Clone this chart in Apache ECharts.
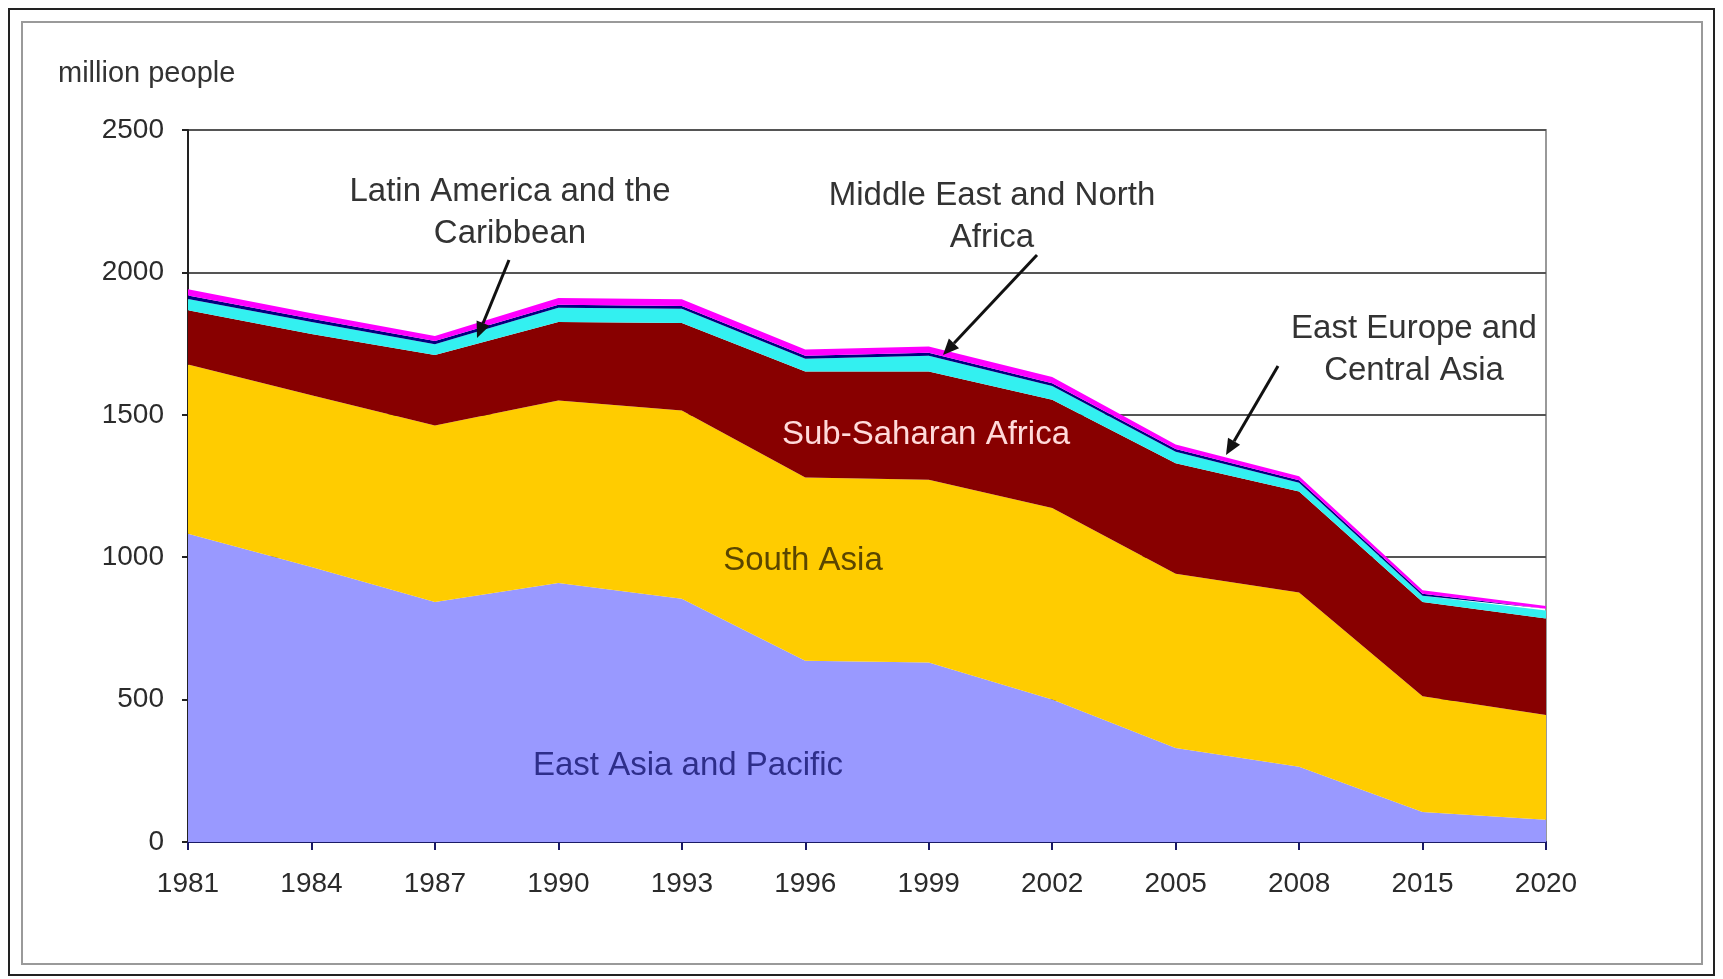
<!DOCTYPE html>
<html>
<head>
<meta charset="utf-8">
<title>Poverty by region</title>
<script src="https://cdn.jsdelivr.net/npm/echarts@6/dist/echarts.min.js"></script>
<style>
  html, body { margin: 0; padding: 0; background: #fff; }
  #chart { width: 1723px; height: 979px; }
</style>
</head>
<body>
<div id="chart"></div>
<script>
// years on the x axis
var years = ['1981', '1984', '1987', '1990', '1993', '1996', '1999', '2002', '2005', '2008', '2015', '2020']
var yTicks = [0, 500, 1000, 1500, 2000, 2500]

// million people (stacked bottom -> top)
var eastAsia = [1082, 966, 843, 909, 854, 636, 630, 500, 330, 264, 105, 78]
var southAsia = [595, 603, 619, 641, 661, 644, 642, 673, 612, 612, 407, 368]
var subSaharan = [190, 215, 248, 276, 307, 372, 380, 380, 388, 355, 331, 339]
var latinAmerica = [40, 42, 38, 50, 50, 45, 55, 48, 40, 30, 22, 28]
var middleEast = [12, 11, 11, 10, 10, 10, 11, 10, 10, 9, 7, 6]
var eastEurope = [22, 20, 18, 24, 24, 22, 22, 22, 16, 14, 12, 10]

var font = 'Liberation Sans, Arial, sans-serif'

function area (name, data, color) {
  return {
    name: name,
    type: 'line',
    stack: 'total',
    data: data,
    symbol: 'none',
    lineStyle: { width: 0 },
    areaStyle: { color: color, opacity: 1 },
    itemStyle: { color: color },
    silent: true
  }
}

function note (x, y, text, color, size) {
  return {
    type: 'text',
    x: x,
    y: y,
    z: 20,
    style: {
      text: text,
      fill: color || '#333',
      font: (size || 33) + 'px ' + font,
      textAlign: 'center',
      textVerticalAlign: 'middle',
      lineHeight: 42
    }
  }
}

function arrow (x1, y1, x2, y2) {
  // shaft plus a small filled head at (x2, y2)
  var ang = Math.atan2(y2 - y1, x2 - x1)
  var len = 16
  var w = 7
  var bx = x2 - len * Math.cos(ang)
  var by = y2 - len * Math.sin(ang)
  return [
    {
      type: 'line', z: 20,
      shape: { x1: x1, y1: y1, x2: bx, y2: by },
      style: { stroke: '#111', lineWidth: 3 }
    },
    {
      type: 'polygon', z: 20,
      shape: {
        points: [
          [x2, y2],
          [bx + w * Math.sin(ang), by - w * Math.cos(ang)],
          [bx - w * Math.sin(ang), by + w * Math.cos(ang)]
        ]
      },
      style: { fill: '#111' }
    }
  ]
}

var chart = echarts.init(document.getElementById('chart'))
chart.setOption({
  backgroundColor: '#fff',
  animation: false,
  grid: {
    left: 188,
    right: 177,
    top: 130,
    bottom: 137,
    show: true,
    borderColor: '#999',
    borderWidth: 2
  },
  xAxis: {
    type: 'category',
    data: years,
    boundaryGap: false,
    axisLine: { lineStyle: { color: '#1a1a66', width: 2 } },
    axisTick: { show: true, length: 8, lineStyle: { color: '#1a1a66', width: 2 } },
    axisLabel: { color: '#2b2b2b', fontSize: 28, fontFamily: font, margin: 28 },
    splitLine: { show: false }
  },
  yAxis: {
    type: 'value',
    min: yTicks[0],
    max: yTicks[yTicks.length - 1],
    interval: yTicks[1] - yTicks[0],
    axisLine: { show: true, lineStyle: { color: '#222', width: 2 } },
    axisTick: { show: true, length: 6, lineStyle: { color: '#222', width: 2 } },
    axisLabel: {
      color: '#2b2b2b',
      fontSize: 28,
      fontFamily: font,
      margin: 24,
      formatter: function (v) { return String(v) }
    },
    splitLine: { show: true, lineStyle: { color: '#555', width: 2 } }
  },
  series: [
    area('East Asia and Pacific', eastAsia, '#9999ff'),
    area('South Asia', southAsia, '#ffcc00'),
    area('Sub-Saharan Africa', subSaharan, '#880000'),
    area('Latin America and the Caribbean', latinAmerica, '#33f0f0'),
    area('Middle East and North Africa', middleEast, '#000080'),
    area('East Europe and Central Asia', eastEurope, '#ff00ff')
  ],
  graphic: [
    // double frame round the whole picture
    { type: 'rect', z: 0, shape: { x: 9, y: 9, width: 1705, height: 966 }, style: { fill: null, stroke: '#222', lineWidth: 2 } },
    { type: 'rect', z: 0, shape: { x: 22, y: 22, width: 1680, height: 942 }, style: { fill: null, stroke: '#9a9a9a', lineWidth: 2 } },
    {
      type: 'text', x: 58, y: 74, z: 20,
      style: { text: 'million people', fill: '#333', font: '29px ' + font, textVerticalAlign: 'middle' }
    },
    note(510, 213, 'Latin America and the\nCaribbean'),
    note(992, 217, 'Middle East and North\nAfrica'),
    note(1414, 350, 'East Europe and\nCentral Asia'),
    note(926, 435, 'Sub-Saharan Africa', '#ffdada'),
    note(803, 561, 'South Asia', '#5a4600'),
    note(688, 766, 'East Asia and Pacific', '#2e2e8a')
  ]
    .concat(arrow(509, 260, 477, 338))
    .concat(arrow(1037, 255, 943, 355))
    .concat(arrow(1278, 366, 1226, 455))
})
</script>
</body>
</html>
